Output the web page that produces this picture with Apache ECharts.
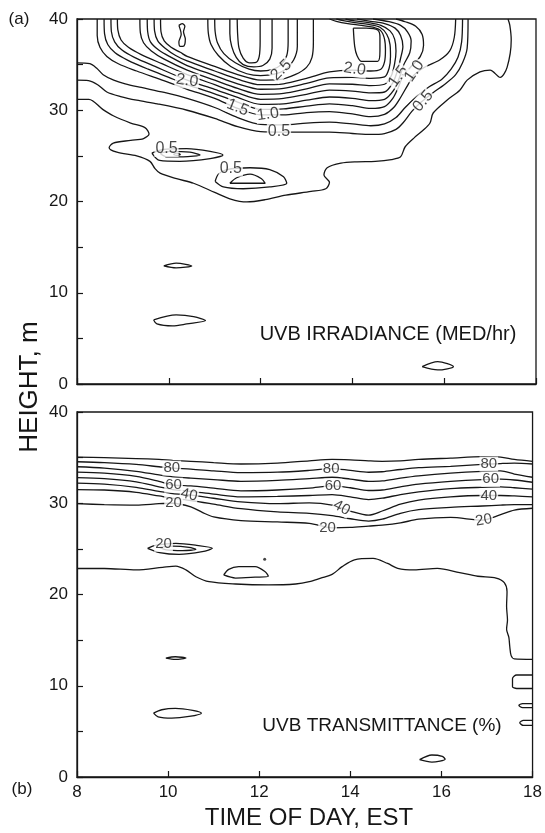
<!DOCTYPE html>
<html>
<head>
<meta charset="utf-8">
<script src="https://cdn.jsdelivr.net/npm/echarts@6.0.0/dist/echarts.min.js"></script>
<style>html,body{margin:0;padding:0;background:#fff}#c{width:545px;height:833px}</style>
</head>
<body>
<div id="c"></div>
<script>
// ---------- Panel (a): UVB irradiance contours, [time (h EST), height (m)] ----------
const aOuter = [[8.0,31.2],[8.26,31.2],[8.56,30.1],[8.79,29.4],[9.17,28.6],[9.48,28.1],[9.57,27.4],[9.45,26.9],[9.17,26.7],[8.79,26.4],[8.7,25.9],[8.87,25.4],[9.3,25.0],[9.59,24.4],[9.7,23.6],[9.81,23.1],[10.17,22.5],[10.54,22.0],[11.0,21.0],[11.33,20.3],[11.7,19.95],[12.1,20.2],[12.55,20.7],[13.1,21.1],[13.42,21.4],[13.5,22.1],[13.38,22.9],[13.45,23.7],[13.75,24.2],[14.1,24.35],[14.5,24.4],[14.85,24.6],[15.05,24.9],[15.15,26.0],[15.35,27.0],[15.54,27.8],[15.69,28.6],[15.76,29.7],[16.06,31.1],[16.34,32.2],[16.5,33.3],[16.78,34.2],[17.0,34.4],[17.22,33.6],[17.37,34.7],[17.46,37.7],[17.43,39.3],[17.39,40]];
const aC1 = [[8.0,33.3],[8.25,33.25],[8.45,32.8],[8.65,32.0],[8.95,31.5],[9.3,31.1],[9.75,30.7],[10.4,30.0],[11.0,29.1],[11.5,28.2],[12.0,27.65],[12.5,27.6],[13.0,27.6],[13.5,27.6],[14.0,27.45],[14.4,27.35],[14.7,27.45],[14.95,27.9],[15.1,28.6],[15.3,29.9],[15.5,30.9],[15.75,31.9],[16.0,32.8],[16.25,33.9],[16.4,35.2],[16.5,36.8],[16.52,40]];
const aC2 = [[8.0,35.2],[8.28,35.1],[8.43,34.6],[8.57,33.9],[8.8,33.3],[9.05,32.9],[9.4,32.5],[9.9,31.95],[10.4,31.3],[11.0,30.3],[11.5,29.2],[12.0,28.45],[12.5,28.4],[13.0,28.6],[13.5,28.7],[14.0,28.5],[14.4,28.3],[14.7,28.5],[14.95,29.2],[15.15,30.3],[15.4,31.5],[15.65,32.5],[15.95,33.4],[16.15,34.5],[16.3,35.8],[16.38,37.5],[16.4,40]];
const aC3 = [[8.44,40],[8.44,38.2],[8.5,36.9],[8.65,35.9],[8.9,35.1],[9.3,34.3],[9.8,33.4],[10.4,32.3],[11.0,31.3],[11.5,30.2],[12.0,29.5],[12.5,29.5],[13.0,29.75],[13.5,29.85],[14.0,29.6],[14.4,29.3],[14.7,29.55],[14.9,30.3],[15.05,31.4],[15.2,32.7],[15.35,33.9],[15.6,34.8],[15.9,35.5],[16.12,36.5],[16.22,38.0],[16.25,40]];
const aC4 = [[8.59,40],[8.6,38.4],[8.67,37.2],[8.83,36.3],[9.1,35.5],[9.55,34.5],[10.0,33.6],[10.4,32.8],[11.0,31.8],[11.5,30.9],[12.0,30.1],[12.5,30.15],[13.0,30.45],[13.5,30.7],[14.0,30.5],[14.4,30.2],[14.7,30.4],[14.88,31.3],[15.0,32.5],[15.1,33.7],[15.3,34.9],[15.48,35.9],[15.55,37.1],[15.52,38.3],[15.38,39.2],[15.15,39.7],[14.95,40]];
const aC5 = [[8.74,40],[8.75,38.6],[8.82,37.5],[8.98,36.6],[9.25,35.8],[9.7,34.8],[10.4,33.3],[11.0,32.3],[11.5,31.4],[12.0,30.65],[12.5,30.7],[13.0,31.1],[13.5,31.45],[14.0,31.3],[14.4,31.05],[14.7,31.2],[14.9,32.2],[15.02,33.5],[15.12,35.0],[15.25,36.3],[15.28,37.6],[15.2,38.6],[15.05,39.3],[14.8,39.7],[14.45,40]];
const aC6 = [[8.88,40],[8.89,38.8],[8.96,37.7],[9.12,36.9],[9.4,36.1],[9.85,35.1],[10.4,33.9],[11.0,32.8],[11.5,31.9],[12.0,31.2],[12.5,31.3],[13.0,31.75],[13.5,32.2],[14.0,32.1],[14.4,31.9],[14.7,32.0],[14.88,33.0],[14.98,34.3],[15.05,35.7],[15.1,37.0],[15.05,38.2],[14.93,39.0],[14.7,39.5],[14.4,39.75],[14.1,40]];
const aC7 = [[9.37,40],[9.38,38.5],[9.45,37.4],[9.62,36.5],[9.9,35.6],[10.4,34.4],[11.0,33.3],[11.5,32.4],[12.0,31.75],[12.5,31.85],[13.0,32.35],[13.5,32.9],[14.0,32.85],[14.4,32.7],[14.7,32.85],[14.85,33.8],[14.92,35.1],[14.95,36.5],[14.92,37.8],[14.82,38.7],[14.62,39.3],[14.35,39.6],[14.05,39.8],[13.85,40]];
const aC8 = [[9.53,40],[9.54,38.6],[9.6,37.5],[9.78,36.6],[10.05,35.8],[10.4,34.9],[11.0,33.8],[11.5,32.9],[12.0,32.3],[12.5,32.4],[13.0,32.95],[13.5,33.55],[14.0,33.6],[14.4,33.5],[14.7,33.65],[14.8,34.6],[14.83,35.9],[14.82,37.2],[14.75,38.3],[14.6,39.1],[14.35,39.4],[14.05,39.6],[13.8,39.82],[13.65,40]];
const aC9 = [[9.68,40],[9.69,38.7],[9.76,37.6],[9.92,36.8],[10.15,36.0],[10.4,35.4],[11.0,34.3],[11.5,33.4],[12.0,32.8],[12.5,32.9],[13.0,33.5],[13.5,34.2],[14.0,34.4],[14.4,34.3],[14.62,34.5],[14.7,35.3],[14.72,36.6],[14.7,37.8],[14.62,38.7],[14.45,39.1],[14.2,39.3],[13.9,39.5],[13.65,39.75],[13.5,40]];
const aC10 = [[9.82,40],[9.83,38.6],[9.9,37.6],[10.05,36.9],[10.25,36.35],[10.4,35.9],[11.0,34.8],[11.5,33.9],[12.0,33.3],[12.4,33.35],[12.75,33.9],[13.0,34.7],[13.12,35.8],[13.15,37.5],[13.15,40]];
const aC11 = [[10.85,40],[10.86,38.5],[10.92,37.2],[11.08,36.0],[11.35,34.8],[11.7,34.0],[12.0,33.8],[12.3,33.95],[12.55,34.5],[12.72,35.5],[12.8,37.0],[12.8,40]];
const aC12 = [[11.0,40],[11.01,38.6],[11.06,37.4],[11.2,36.2],[11.45,35.2],[11.75,34.5],[12.0,34.3],[12.25,34.45],[12.45,35.0],[12.57,36.0],[12.6,37.5],[12.6,40]];
const aC13 = [[11.33,40],[11.33,38.4],[11.37,37.0],[11.47,35.8],[11.62,35.0],[11.85,34.75],[12.05,34.9],[12.2,35.6],[12.25,36.8],[12.25,38.5],[12.25,40]];
const aC14 = [[11.49,40],[11.5,38.3],[11.53,36.8],[11.62,35.7],[11.75,35.2],[11.9,35.25],[11.97,35.9],[11.99,37.5],[11.99,40]];
const aBox = [[14.02,39.0],[14.05,37.0],[14.1,36.0],[14.2,35.35],[14.55,35.35],[14.6,36.5],[14.6,38.0],[14.55,38.8],[14.3,39.0],[14.02,39.0]];
const aTopLoop = [[10.22,39.3],[10.27,38.3],[10.22,37.5],[10.25,37.0],[10.33,37.05],[10.36,37.8],[10.32,38.6],[10.35,39.2],[10.29,39.5],[10.22,39.3]];
const aLoop25 = [[9.63,25.3],[9.87,25.7],[10.39,25.8],[10.9,25.5],[11.18,25.1],[10.9,24.7],[10.24,24.4],[9.8,24.5],[9.63,25.3]];
const aLoop25in = [[9.81,25.3],[10.03,25.5],[10.46,25.4],[10.68,25.1],[10.31,24.9],[9.95,24.9],[9.81,25.3]];
const aLoop25core = [[10.1,25.15],[10.17,25.3],[10.25,25.15],[10.17,25.05],[10.1,25.15]];
const aLoop22 = [[11.01,22.2],[11.08,23.0],[11.26,23.5],[11.77,23.7],[12.2,23.5],[12.5,22.7],[12.57,22.0],[12.2,21.6],[11.62,21.4],[11.19,21.6],[11.01,22.2]];
const aLoop22in = [[11.33,22.0],[11.48,22.6],[11.77,23.0],[12.02,22.5],[12.1,22.0],[11.33,22.0]];
const aEll13 = [[9.89,12.94],[10.16,13.24],[10.5,12.94],[10.16,12.72],[9.89,12.94]];
const aEll7 = [[9.67,7.02],[10.16,7.57],[10.54,7.39],[10.8,6.95],[10.39,6.58],[10.08,6.36],[9.74,6.58],[9.67,7.02]];
const aEll2 = [[15.52,1.9],[15.86,2.45],[16.2,1.9],[15.86,1.54],[15.52,1.9]];
// contour labels: [time, height, text, rotation]
const aLabels = [[10.4,33.25,'2.0',-8],[12.45,34.4,'2.5',45],[11.5,30.3,'1.5',-22],[12.16,29.55,'1.0',8],[12.4,27.65,'0.5',0],[14.05,34.5,'2.0',-8],[15.0,33.7,'1.5',55],[15.35,34.3,'1.0',55],[15.54,31.0,'0.5',50],[9.95,25.75,'0.5',0],[11.35,23.6,'0.5',0]];

// ---------- Panel (b): UVB transmittance contours ----------
const b90 = [[8,35.05],[8.6,35.0],[9.3,34.9],[9.8,34.8],[10.1,34.7],[10.5,34.6],[11.0,34.45],[11.6,34.3],[12.4,34.4],[13.1,34.65],[13.6,34.8],[14.0,34.75],[14.4,34.65],[14.7,34.6],[15.1,34.65],[15.5,34.8],[16.2,34.95],[16.9,35.1],[17.3,35.05],[17.6,34.8],[18,34.6]];
const b80 = [[8,34.55],[8.6,34.45],[9.3,34.25],[9.8,34.0],[10.1,33.85],[10.5,33.75],[11.0,33.55],[11.6,33.35],[12.4,33.4],[13.1,33.6],[13.6,33.8],[14.0,33.6],[14.4,33.4],[14.7,33.45],[15.1,33.7],[15.5,33.9],[16.2,34.05],[16.9,34.25],[17.3,34.35],[17.6,34.4],[18,34.3]];
const b70 = [[8,34.0],[8.6,33.85],[9.3,33.5],[9.8,33.1],[10.1,32.9],[10.5,32.75],[11.0,32.6],[11.6,32.4],[12.4,32.5],[13.1,32.7],[13.6,32.85],[14.0,32.65],[14.4,32.4],[14.7,32.45],[15.1,32.75],[15.5,33.0],[16.2,33.3],[16.9,33.5],[17.3,33.55],[17.6,33.2],[18,32.85]];
const b60 = [[8,33.4],[8.6,33.3],[9.3,32.95],[9.8,32.4],[10.1,32.0],[10.5,31.9],[11.0,31.65],[11.6,31.35],[12.4,31.45],[13.1,31.65],[13.6,31.9],[14.0,31.7],[14.4,31.4],[14.7,31.45],[15.1,31.8],[15.5,32.1],[16.2,32.4],[16.9,32.6],[17.3,32.65],[17.6,32.55],[18,32.3]];
const b50 = [[8,32.8],[8.6,32.7],[9.3,32.35],[9.8,31.8],[10.1,31.5],[10.5,31.3],[11.0,31.0],[11.6,30.7],[12.4,30.75],[13.1,30.85],[13.6,30.95],[14.0,30.7],[14.4,30.4],[14.7,30.55],[15.1,30.95],[15.5,31.25],[16.2,31.6],[16.9,31.75],[17.3,31.8],[17.6,31.7],[18,31.55]];
const b40 = [[8,32.2],[8.6,32.1],[9.3,31.75],[9.8,31.3],[10.1,31.05],[10.5,30.9],[11.0,30.55],[11.6,30.15],[12.4,29.95],[13.1,30.05],[13.6,29.8],[14.0,29.15],[14.4,28.7],[14.7,29.15],[15.1,29.9],[15.5,30.35],[16.2,30.7],[16.9,30.85],[17.3,30.85],[17.6,30.8],[18,30.7]];
const b30 = [[8,31.5],[8.6,31.45],[9.3,31.2],[9.8,30.8],[10.1,30.55],[10.5,30.3],[11.0,29.9],[11.6,29.4],[12.4,29.05],[13.1,28.9],[13.6,28.65],[14.0,28.3],[14.4,28.05],[14.7,28.25],[15.1,28.9],[15.5,29.3],[16.2,29.55],[16.9,29.7],[17.3,29.8],[17.6,29.85],[18,29.85]];
const b20 = [[8,29.95],[8.6,29.85],[9.3,29.8],[9.8,29.95],[10.1,30.0],[10.5,29.6],[10.75,29.0],[11.0,28.5],[11.6,28.1],[12.4,27.95],[13.1,27.8],[13.6,27.3],[14.0,27.35],[14.4,27.5],[14.7,27.6],[15.1,27.85],[15.5,28.25],[16.2,28.45],[16.9,28.15],[17.3,28.75],[17.6,29.25],[18,29.45]];
const bLow = [[8.0,22.85],[8.6,22.85],[9.3,22.7],[9.88,22.98],[10.17,23.1],[10.39,22.7],[10.61,21.95],[10.9,21.4],[11.48,21.15],[12.2,21.05],[12.8,21.15],[13.1,21.4],[13.35,21.8],[13.6,22.2],[13.82,23.05],[14.09,23.8],[14.5,23.95],[14.82,23.4],[15.04,22.87],[15.4,22.7],[15.91,22.87],[16.4,22.4],[16.8,22.0],[17.2,21.8],[17.38,21.3],[17.44,20.3],[17.43,18.7],[17.45,17.2],[17.43,16.2],[17.48,15.3],[17.5,14.3],[17.53,13.3],[17.6,12.95],[18.0,12.9]];
const bLoop25 = [[9.55,25.06],[9.74,25.4],[10.17,25.6],[10.6,25.4],[10.97,25.06],[10.75,24.7],[10.24,24.4],[9.81,24.6],[9.55,25.06]];
const bLoop25in = [[9.81,25.17],[10.1,25.3],[10.46,25.17],[10.61,24.95],[10.32,24.8],[9.96,24.88],[9.81,25.17]];
const bLoop22 = [[11.22,22.14],[11.33,22.76],[11.55,23.05],[11.91,23.05],[12.13,22.5],[12.2,22.0],[11.91,21.9],[11.48,21.8],[11.22,22.14]];
const bEll13 = [[9.95,13.03],[10.16,13.18],[10.39,13.03],[10.16,12.88],[9.95,13.03]];
const bEll7 = [[9.68,7.0],[9.86,7.37],[10.16,7.52],[10.54,7.3],[10.73,7.0],[10.46,6.64],[10.08,6.46],[9.78,6.6],[9.68,7.0]];
const bEll2 = [[15.52,1.9],[15.79,2.41],[16.02,2.26],[16.08,1.95],[15.79,1.64],[15.52,1.9]];
const bEdgeU = [[18,11.18],[17.65,11.18],[17.56,10.8],[17.56,9.9],[17.65,9.7],[18,9.7]];
const bEdge8 = [[18,8.05],[17.78,8.05],[17.7,7.85],[17.78,7.6],[18,7.6]];
const bEdge6 = [[18,6.2],[17.8,6.2],[17.72,5.95],[17.8,5.65],[18,5.65]];
const bDots = [[12.12,23.86]];
const bLabels = [[10.08,33.85,'80',0],[13.58,33.8,'80',0],[17.04,34.3,'80',0],[10.12,31.98,'60',0],[13.62,31.88,'60',0],[17.08,32.62,'60',0],[10.46,30.9,'40',-12],[13.81,29.5,'40',-28],[17.04,30.85,'40',0],[10.12,30.02,'20',0],[13.5,27.28,'20',0],[16.93,28.15,'20',10],[9.9,25.5,'20',0]];

// axis settings
const xMin = 8, xMax = 18, xStep = 2;
const yMin = 0, yMax = 40, yStep = 5;

const aLines = [aOuter,aC1,aC2,aC3,aC4,aC5,aC6,aC7,aC8,aC9,aC10,aC11,aC12,aC13,aC14,aBox,aTopLoop,aLoop25,aLoop25in,aLoop25core,aLoop22,aLoop22in,aEll13,aEll7,aEll2];
const bLines = [b90,b80,b70,b60,b50,b40,b30,b20,bLow,bLoop25,bLoop25in,bLoop22,bEll13,bEll7,bEll2,bEdgeU,bEdge8,bEdge6];

const INK = '#161616';
const FONT = 'Liberation Sans';

function lineSeries(idx, pts) {
  return {type:'line', xAxisIndex:idx, yAxisIndex:idx, data:pts, showSymbol:false, symbol:'none',
    smooth:0.3, lineStyle:{color:INK, width:1.3}, silent:true, z:2, clip:true};
}
function labelSeries(idx, labs, size) {
  return {type:'scatter', xAxisIndex:idx, yAxisIndex:idx, symbolSize:1, z:5, silent:true,
    itemStyle:{color:'rgba(0,0,0,0)'},
    data: labs.map(l => ({value:[l[0], l[1]], label:{show:true, formatter:l[2], rotate:l[3]}})),
    label:{show:true, position:'inside', align:'center', verticalAlign:'middle', color:INK,
      fontFamily:FONT, fontSize:size, backgroundColor:'#fff', padding:[0,1]}};
}
function xAxis(idx, showLabels) {
  return {type:'value', gridIndex:idx, min:xMin, max:xMax, interval:xStep,
    axisLine:{lineStyle:{color:INK, width:1.3}}, axisTick:{inside:true, length:6, lineStyle:{color:INK, width:1.2}},
    splitLine:{show:false},
    axisLabel:{show:showLabels, color:INK, fontFamily:FONT, fontSize:17, margin:7}};
}
function yAxis(idx) {
  return {type:'value', gridIndex:idx, min:yMin, max:yMax, interval:yStep,
    axisLine:{lineStyle:{color:INK, width:1.3}}, axisTick:{inside:true, length:6, lineStyle:{color:INK, width:1.2}},
    splitLine:{show:false},
    axisLabel:{color:INK, fontFamily:FONT, fontSize:17, margin:9, formatter: v => (v % 10 === 0 ? String(v) : '')}};
}

const series = [];
aLines.forEach(p => series.push(lineSeries(0, p)));
bLines.forEach(p => series.push(lineSeries(1, p)));
series.push(labelSeries(0, aLabels, 16));
series.push(labelSeries(1, bLabels, 15));
series.push({type:'scatter', xAxisIndex:1, yAxisIndex:1, data:bDots, symbolSize:3, itemStyle:{color:INK}, silent:true, z:3});

const chart = echarts.init(document.getElementById('c'), null, {renderer:'canvas'});
chart.setOption({
  animation:false,
  backgroundColor:'#fff',
  grid:[
    {left:77, top:19, width:459, height:365, show:true, borderColor:INK, borderWidth:1.3, backgroundColor:'transparent'},
    {left:77, top:412, width:459, height:365, show:true, borderColor:INK, borderWidth:1.3, backgroundColor:'transparent'}
  ],
  xAxis:[xAxis(0,false), xAxis(1,true)],
  yAxis:[yAxis(0), yAxis(1)],
  series: series,
  graphic:[
    {type:'text', x:19, y:19, style:{text:'(a)', fontFamily:FONT, fontSize:17, fill:INK, textAlign:'center', textVerticalAlign:'middle'}},
    {type:'text', x:22, y:789, style:{text:'(b)', fontFamily:FONT, fontSize:17, fill:INK, textAlign:'center', textVerticalAlign:'middle'}},
    {type:'text', x:388, y:334, style:{text:'UVB IRRADIANCE (MED/hr)', fontFamily:FONT, fontSize:20, fill:INK, textAlign:'center', textVerticalAlign:'middle'}},
    {type:'text', x:382, y:726, style:{text:'UVB TRANSMITTANCE (%)', fontFamily:FONT, fontSize:19, fill:INK, textAlign:'center', textVerticalAlign:'middle'}},
    {type:'text', x:309, y:818, style:{text:'TIME OF DAY, EST', fontFamily:FONT, fontSize:24, fill:INK, textAlign:'center', textVerticalAlign:'middle'}},
    {type:'text', x:30, y:387, rotation:Math.PI/2, style:{text:'HEIGHT, m', fontFamily:FONT, fontSize:26, fill:INK, textAlign:'center', textVerticalAlign:'middle'}}
  ]
});
</script>
</body>
</html>
